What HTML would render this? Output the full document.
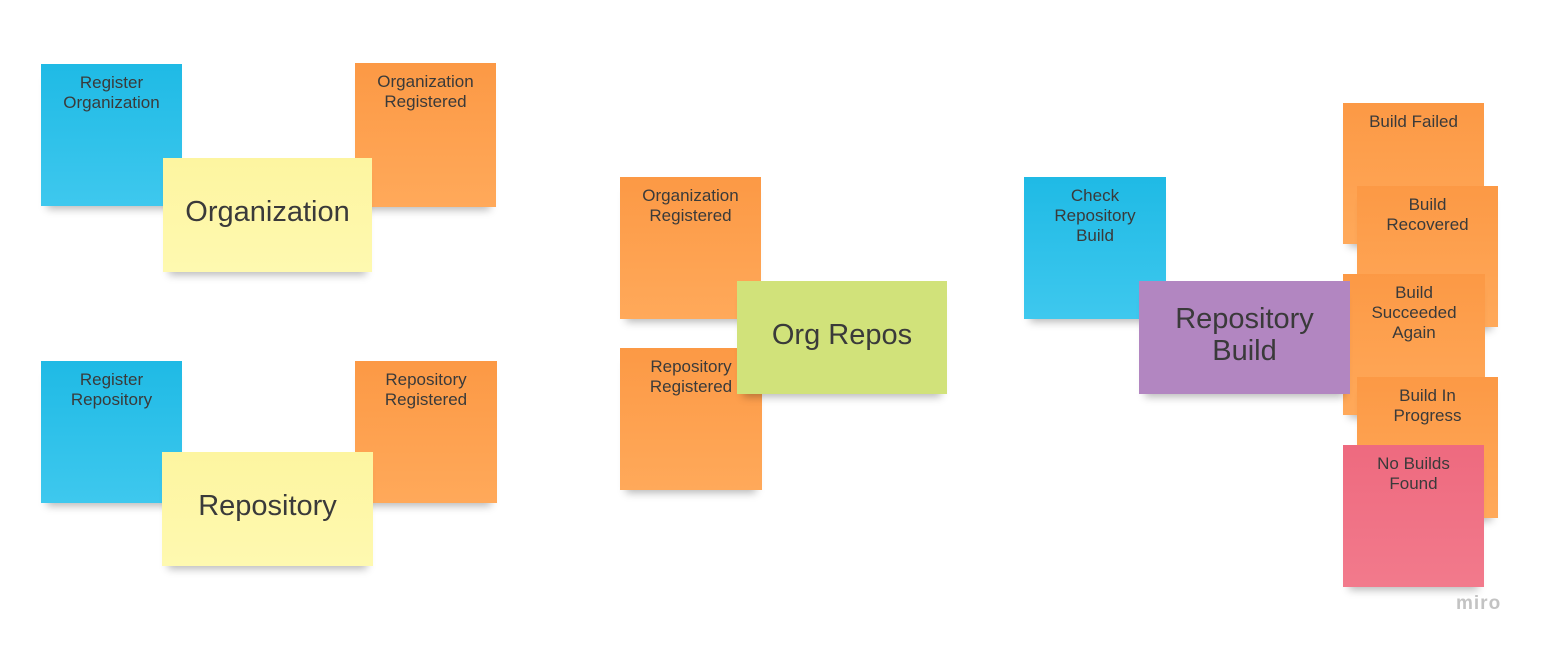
<!DOCTYPE html>
<html><head><meta charset="utf-8"><style>
body{margin:0;width:1541px;height:648px;background:#fff;position:relative;overflow:hidden;font-family:"Liberation Sans","DejaVu Sans",sans-serif;}
.n{position:absolute;box-sizing:border-box;text-align:center;color:#3a3a3a;box-shadow:0 9px 8px -6px rgba(0,0,0,0.28);}
.s{font-size:17px;line-height:20px;padding-top:9px;}
.b{font-size:29px;line-height:32px;display:flex;align-items:center;justify-content:center;padding-bottom:6px;}
.bl{background:linear-gradient(#1fbae5,#3ec8ee);}
.or{background:linear-gradient(#fc9945,#ffa95a);}
.ye{background:linear-gradient(#fdf5a0,#fef9b0);}
.gr{background:#d1e27a;}
.pu{background:#b286c1;}
.pk{background:linear-gradient(#ee6a7f,#f27a8c);}
</style></head><body>
<div class="n s bl" style="left:41px;top:64px;width:141px;height:142px">Register<br>Organization</div>
<div class="n s or" style="left:355px;top:63px;width:141px;height:144px">Organization<br>Registered</div>
<div class="n b ye" style="left:163px;top:158px;width:209px;height:114px">Organization</div>
<div class="n s bl" style="left:41px;top:361px;width:141px;height:142px">Register<br>Repository</div>
<div class="n s or" style="left:355px;top:361px;width:142px;height:142px">Repository<br>Registered</div>
<div class="n b ye" style="left:162px;top:452px;width:211px;height:114px">Repository</div>
<div class="n s or" style="left:620px;top:177px;width:141px;height:142px">Organization<br>Registered</div>
<div class="n s or" style="left:620px;top:348px;width:142px;height:142px">Repository<br>Registered</div>
<div class="n b gr" style="left:737px;top:281px;width:210px;height:113px">Org Repos</div>
<div class="n s bl" style="left:1024px;top:177px;width:142px;height:142px">Check<br>Repository<br>Build</div>
<div class="n s or" style="left:1343px;top:103px;width:141px;height:141px">Build Failed</div>
<div class="n s or" style="left:1357px;top:186px;width:141px;height:141px">Build<br>Recovered</div>
<div class="n s or" style="left:1343px;top:274px;width:142px;height:141px">Build<br>Succeeded<br>Again</div>
<div class="n s or" style="left:1357px;top:377px;width:141px;height:141px">Build In<br>Progress</div>
<div class="n s pk" style="left:1343px;top:445px;width:141px;height:142px">No Builds<br>Found</div>
<div class="n b pu" style="left:1139px;top:281px;width:211px;height:113px">Repository<br>Build</div>
<div style="position:absolute;left:1456px;top:593px;font-size:19px;color:#c3c3c3;font-weight:bold;letter-spacing:1px">miro</div>
</body></html>
